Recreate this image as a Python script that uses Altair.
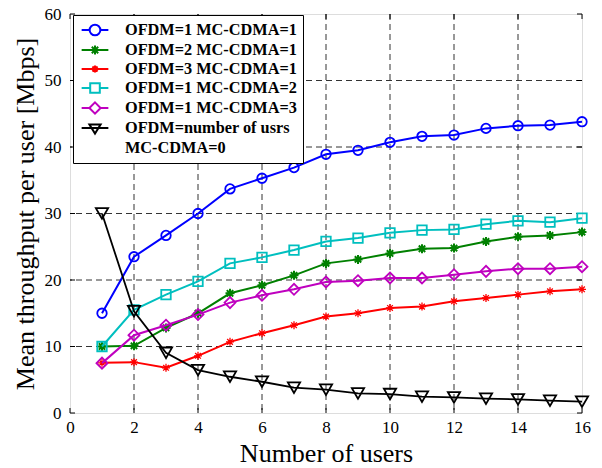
import altair as alt
import pandas as pd

FONT = "Liberation Serif"

users = list(range(1, 17))
ofdm1_mc1 = [15.0, 23.5, 26.7, 30.0, 33.7, 35.3, 36.9, 38.9, 39.5, 40.7, 41.6, 41.8, 42.8, 43.2, 43.3, 43.8]
ofdm2_mc1 = [10.0, 10.1, 12.8, 15.0, 18.0, 19.2, 20.7, 22.5, 23.1, 24.0, 24.7, 24.8, 25.8, 26.5, 26.7, 27.2]
ofdm3_mc1 = [7.55, 7.65, 6.8, 8.6, 10.7, 12.0, 13.2, 14.5, 15.0, 15.8, 16.0, 16.8, 17.3, 17.8, 18.3, 18.6]
ofdm1_mc2 = [10.0, 15.5, 17.8, 19.8, 22.5, 23.4, 24.5, 25.8, 26.3, 27.1, 27.5, 27.6, 28.4, 28.9, 28.7, 29.3]
ofdm1_mc3 = [7.5, 11.7, 13.2, 14.8, 16.6, 17.7, 18.6, 19.7, 19.9, 20.3, 20.3, 20.8, 21.3, 21.7, 21.7, 22.0]
ofdmN_mc0 = [30.0, 15.3, 9.05, 6.45, 5.45, 4.7, 3.8, 3.5, 2.95, 2.85, 2.45, 2.35, 2.15, 2.05, 1.85, 1.7]

series_names = ["OFDM=1 MC-CDMA=1", "OFDM=2 MC-CDMA=1", "OFDM=3 MC-CDMA=1",
                "OFDM=1 MC-CDMA=2", "OFDM=1 MC-CDMA=3", "OFDM=number of usrs"]
legend_names = series_names + ["MC-CDMA=0"]
series_values = [ofdm1_mc1, ofdm2_mc1, ofdm3_mc1, ofdm1_mc2, ofdm1_mc3, ofdmN_mc0]
colors = ["#0000FF", "#008000", "#FF0000", "#00BFBF", "#BF00BF", "#000000"]

x_ticks = [0, 2, 4, 6, 8, 10, 12, 14, 16]
y_ticks = [0, 10, 20, 30, 40, 50, 60]
x_grid = [2, 4, 6, 8, 10, 12, 14]
y_grid = [10, 20, 30, 40, 50]

rows = []
for name, vals in zip(series_names, series_values):
    for u, v in zip(users, vals):
        rows.append({"users": u, "value": v, "series": name})
df = pd.DataFrame(rows)

AST = "M-1,0L1,0M0,-1L0,1M-0.71,-0.71L0.71,0.71M-0.71,0.71L0.71,-0.71"
marker_shapes = ["circle", AST, AST, "square", "diamond", "triangle-down"]
marker_sizes = [90, 81, 64, 90, 121, 150]
marker_widths = [1.8, 2.0, 1.3, 1.8, 1.8, 1.8]

legend_paths = [
    "M-1.67,0L-0.67,0M0.67,0L1.67,0M-0.67,0A0.67,0.67 0 1 0 0.67,0A0.67,0.67 0 1 0 -0.67,0",
    "M-1.67,0L1.67,0M0,-0.56L0,0.56M-0.4,-0.4L0.4,0.4M-0.4,0.4L0.4,-0.4",
    "M-1.67,0L1.67,0M0,-0.45L0,0.45M-0.32,-0.32L0.32,0.32M-0.32,0.32L0.32,-0.32",
    "M-1.67,0L-0.6,0M0.6,0L1.67,0M-0.6,-0.6L0.6,-0.6L0.6,0.6L-0.6,0.6Z",
    "M-1.67,0L-0.7,0M0.7,0L1.67,0M0,-0.7L0.7,0L0,0.7L-0.7,0Z",
    "M-1.67,0L1.67,0M-0.7,-0.45L0.7,-0.45L0,0.7Z",
    "M0,0L0,0",
]

xscale = alt.Scale(domain=[0, 16], nice=False, zero=False)
yscale = alt.Scale(domain=[0, 60], nice=False)

xaxis = alt.Axis(values=x_ticks, format="d", title="Number of users", grid=False,
                 ticks=False, domain=False,
                 labelFont=FONT, labelFontSize=17, labelColor="black", labelPadding=6,
                 labelFlush=False, titleFont=FONT, titleFontSize=26, titleFontWeight="normal",
                 titleColor="black", titleY=48, titleBaseline="alphabetic")
yaxis = alt.Axis(values=y_ticks, format="d", title="Mean throughput per user [Mbps]", grid=False,
                 ticks=False, domain=False,
                 labelFont=FONT, labelFontSize=17, labelColor="black", labelPadding=9,
                 labelFlush=False, titleFont=FONT, titleFontSize=26, titleFontWeight="normal",
                 titleColor="black", titleX=-37, titleY=199.5, titleAngle=270,
                 titleAlign="center", titleBaseline="alphabetic")

enc_x = alt.X("users:Q", scale=xscale, axis=xaxis, title="Number of users")
enc_y = alt.Y("value:Q", scale=yscale, axis=yaxis, title="Mean throughput per user [Mbps]")

xg = pd.DataFrame({"users": x_grid})
yg = pd.DataFrame({"value": y_grid})
grid = [
    alt.Chart(xg).mark_rule(color="#333333", strokeWidth=1, strokeDash=[6, 4]).encode(x=enc_x),
    alt.Chart(yg).mark_rule(color="#333333", strokeWidth=1, strokeDash=[6, 4]).encode(y=enc_y),
]

xt = pd.DataFrame({"users": x_ticks})
yt = pd.DataFrame({"value": y_ticks})
ticks = [
    alt.Chart(xt).mark_rule(color="black", strokeWidth=1).encode(x=enc_x, y=alt.value(399), y2=alt.value(394)),
    alt.Chart(xt).mark_rule(color="black", strokeWidth=1).encode(x=enc_x, y=alt.value(0), y2=alt.value(5)),
    alt.Chart(yt).mark_rule(color="black", strokeWidth=1).encode(y=enc_y, x=alt.value(0), x2=alt.value(5)),
    alt.Chart(yt).mark_rule(color="black", strokeWidth=1).encode(y=enc_y, x=alt.value(512), x2=alt.value(507)),
]

layers = []
for i, (name, color) in enumerate(zip(series_names, colors)):
    base = alt.Chart(df).transform_filter(alt.datum.series == name)
    layers.append(base.mark_line(color=color, strokeWidth=2 if i < 5 else 1.8).encode(x=enc_x, y=enc_y))
    layers.append(base.mark_point(color=color, shape=marker_shapes[i], size=marker_sizes[i],
                                  filled=False, strokeWidth=marker_widths[i], opacity=1).encode(x=enc_x, y=enc_y))

leg = alt.Legend(title=None, orient="none", legendX=3, legendY=1, direction="vertical",
                 labelFont=FONT, labelFontSize=16.3, labelFontWeight="bold", labelColor="black",
                 labelLimit=400, symbolSize=256, symbolStrokeWidth=2, symbolOffset=7,
                 labelOffset=21, rowPadding=1, padding=6, strokeColor="black", fillColor="white")

legend_layer = alt.Chart(df).transform_filter("datum.users < 0").mark_point(
    filled=False, size=256, strokeWidth=2, opacity=1).encode(
    x=enc_x, y=enc_y,
    color=alt.Color("series:N", scale=alt.Scale(domain=legend_names, range=colors + ["transparent"]), legend=leg),
    shape=alt.Shape("series:N", scale=alt.Scale(domain=legend_names, range=legend_paths), legend=leg),
)

chart = alt.layer(*grid, *ticks, *layers, legend_layer).properties(
    width=512, height=399,
    padding={"left": 70, "top": 14, "right": 20, "bottom": 55},
    autosize=alt.AutoSizeParams(type="none"),
    background="white",
).configure_view(stroke="black", strokeWidth=1.2).configure(font=FONT)

chart.save("out.html", embed_options={"renderer": "svg", "actions": False})
